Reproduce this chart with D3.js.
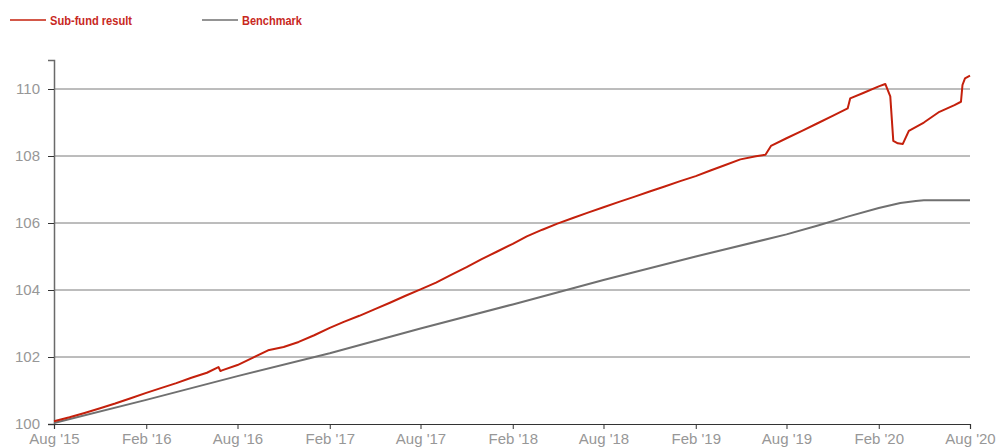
<!DOCTYPE html>
<html>
<head>
<meta charset="utf-8">
<script src="https://cdn.jsdelivr.net/npm/d3@7"></script>
<style>
  html, body { margin: 0; padding: 0; background: #fff; }
  svg { display: block; }
  .tick text { font-family: "Liberation Sans", Arial, sans-serif; font-size: 15px; fill: #979797; }
  .legend text { font-family: "Liberation Sans Narrow", "Liberation Sans", sans-serif; font-weight: bold; font-size: 13px; fill: #c8281e; }
</style>
</head>
<body>
<svg id="chart" width="999" height="447"></svg>
<script>
const fundDates = [
  "2015-08-01", "2015-09-01", "2015-10-01", "2015-11-01", "2015-12-01",
  "2016-01-01", "2016-02-01", "2016-03-01", "2016-04-01", "2016-05-01",
  "2016-06-01", "2016-06-24", "2016-06-28", "2016-07-01", "2016-08-01",
  "2016-09-01", "2016-10-01", "2016-11-01", "2016-12-01", "2017-01-01",
  "2017-02-01", "2017-03-01", "2017-04-01", "2017-05-01", "2017-06-01",
  "2017-07-01", "2017-08-01", "2017-09-01", "2017-10-01", "2017-11-01",
  "2017-12-01", "2018-01-01", "2018-02-01", "2018-03-01", "2018-04-01",
  "2018-05-01", "2018-06-01", "2018-07-01", "2018-08-01", "2018-09-01",
  "2018-10-01", "2018-11-01", "2018-12-01", "2019-01-01", "2019-02-01",
  "2019-03-01", "2019-04-01", "2019-05-01", "2019-06-01", "2019-06-20",
  "2019-07-01", "2019-08-01", "2019-09-01", "2019-10-01", "2019-11-01",
  "2019-12-01", "2019-12-06", "2020-01-01", "2020-02-01", "2020-02-14",
  "2020-02-24", "2020-03-01", "2020-03-10", "2020-03-20", "2020-04-01",
  "2020-05-01", "2020-06-01", "2020-07-01", "2020-07-14", "2020-07-17",
  "2020-07-22", "2020-08-01"
];
const fundValues = [
  100.08, 100.20, 100.33, 100.47, 100.61,
  100.77, 100.93, 101.07, 101.22, 101.38,
  101.53, 101.70, 101.58, 101.60, 101.76,
  101.98, 102.20, 102.30, 102.45, 102.65,
  102.87, 103.05, 103.23, 103.42, 103.62,
  103.82, 104.02, 104.22, 104.45, 104.68,
  104.92, 105.15, 105.38, 105.60, 105.80,
  105.98, 106.15, 106.31, 106.47, 106.63,
  106.78, 106.94, 107.09, 107.25, 107.40,
  107.56, 107.73, 107.90, 107.99, 108.04,
  108.30, 108.53, 108.75, 108.97, 109.20,
  109.42, 109.72, 109.88, 110.08, 110.15,
  109.78, 108.45, 108.38, 108.36, 108.75,
  109.00, 109.32, 109.52, 109.62, 110.12,
  110.32, 110.40
];

const benchDates = [
  "2015-08-01", "2016-02-01", "2016-08-01", "2017-02-01", "2017-08-01",
  "2018-02-01", "2018-08-01", "2019-02-01", "2019-08-01", "2019-10-01",
  "2019-12-01", "2020-02-01", "2020-03-15", "2020-04-15", "2020-05-01",
  "2020-08-01"
];
const benchValues = [
  100.03, 100.72, 101.43, 102.11, 102.85,
  103.57, 104.30, 105.00, 105.66, 105.92,
  106.19, 106.45, 106.60, 106.66, 106.68,
  106.68
];

const yTicks = [100, 102, 104, 106, 108, 110];
const xTickLabels = ["Aug '15", "Feb '16", "Aug '16", "Feb '17", "Aug '17", "Feb '18",
                     "Aug '18", "Feb '19", "Aug '19", "Feb '20", "Aug '20"];

const series = [
  { name: "Sub-fund result", dates: fundDates, values: fundValues, color: "#c4200c", legendWidth: 82 },
  { name: "Benchmark", dates: benchDates, values: benchValues, color: "#707070", legendWidth: 60 }
];

const svg = d3.select("#chart");
const plotLeft = 54, plotRight = 970, plotTop = 60, plotBottom = 424;

const parse = d3.utcParse("%Y-%m-%d");
const x = d3.scaleUtc()
  .domain([parse("2015-08-01"), parse("2020-08-01")])
  .range([plotLeft, plotRight]);
const y = d3.scaleLinear()
  .domain([100, 110.866])
  .range([plotBottom, plotTop]);

// one tick every six months, starting at Aug '15
const xTickDates = d3.utcMonth.range(parse("2015-08-01"), parse("2020-08-02"), 6);

// gridlines
svg.append("g")
  .selectAll("line")
  .data(yTicks.filter((d) => d > 100))
  .join("line")
  .attr("x1", plotLeft)
  .attr("x2", plotRight)
  .attr("y1", (d) => y(d))
  .attr("y2", (d) => y(d))
  .attr("stroke", "#7a7a7a")
  .attr("stroke-width", 1);

// y axis
const yAxis = svg.append("g")
  .attr("transform", `translate(${plotLeft},0)`)
  .call(d3.axisLeft(y).tickValues(yTicks).tickSize(6).tickPadding(8).tickFormat(d3.format("d")));
yAxis.select(".domain").attr("stroke", "#6a6a6a").attr("stroke-width", 1.5);
yAxis.selectAll(".tick line").attr("stroke", "#333");

// lines
const line = d3.line()
  .x((d) => x(d.date))
  .y((d) => y(d.value));

for (const s of [...series].reverse()) {
  const data = s.dates.map((d, i) => ({ date: parse(d), value: s.values[i] }));
  svg.append("path")
    .attr("fill", "none")
    .attr("stroke", s.color)
    .attr("stroke-width", 2)
    .attr("stroke-linejoin", "round")
    .attr("d", line(data));
}

// x axis
const xAxis = svg.append("g")
  .attr("transform", `translate(0,${plotBottom})`)
  .call(d3.axisBottom(x).tickValues(xTickDates).tickSize(5).tickPadding(4)
    .tickFormat((d, i) => xTickLabels[i]));
xAxis.select(".domain").attr("stroke", "#333").attr("stroke-width", 1.2);
xAxis.selectAll(".tick line").attr("stroke", "#333");

// legend
const legend = svg.append("g").attr("class", "legend");
const legendX = [10, 202];
series.forEach((s, i) => {
  const g = legend.append("g").attr("transform", `translate(${legendX[i]},20)`);
  g.append("line")
    .attr("x1", 0).attr("x2", 36)
    .attr("stroke", s.color)
    .attr("stroke-width", 1.5);
  g.append("text")
    .attr("x", 40)
    .attr("dy", "0.35em")
    .attr("textLength", s.legendWidth)
    .attr("lengthAdjust", "spacingAndGlyphs")
    .text(s.name);
});
</script>
</body>
</html>
